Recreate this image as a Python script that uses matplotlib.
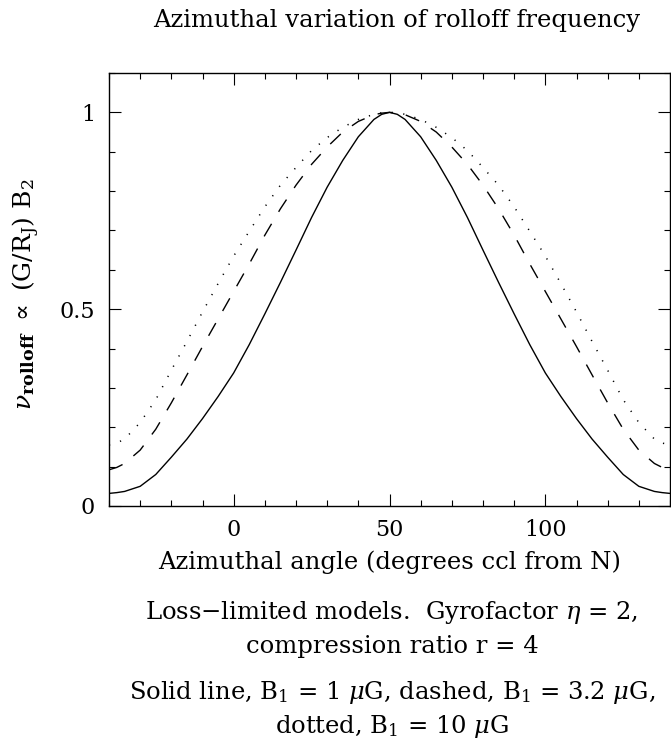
#import libraries
import matplotlib
matplotlib.use('Agg')
import matplotlib.pyplot as plt
from matplotlib.ticker import MultipleLocator

plt.rcParams['font.family'] = 'DejaVu Serif'
plt.rcParams['mathtext.fontset'] = 'dejavuserif'

#values (degrees ccl from N, normalised rolloff frequency)
angle = [-40, -37.5, -35, -30, -25, -20, -15, -10, -5, 0, 5, 10, 15, 20, 25, 30, 35, 40, 45, 47.5, 50,
         52.5, 55, 60, 65, 70, 75, 80, 85, 90, 95, 100, 105, 110, 115, 120, 125, 130, 135, 137.5, 140]

solid = [0.032, 0.034, 0.037, 0.050, 0.080, 0.124, 0.170, 0.222, 0.278, 0.338, 0.410, 0.488, 0.568,
         0.650, 0.733, 0.810, 0.878, 0.938, 0.982, 0.995, 1.000,
         0.995, 0.982, 0.938, 0.878, 0.810, 0.733, 0.650, 0.568, 0.488, 0.410, 0.338, 0.278, 0.222,
         0.170, 0.124, 0.080, 0.050, 0.037, 0.034, 0.032]

dashed = [0.092, 0.098, 0.108, 0.142, 0.195, 0.262, 0.333, 0.405, 0.475, 0.545, 0.615, 0.688, 0.755,
          0.815, 0.868, 0.912, 0.950, 0.977, 0.994, 0.998, 1.000,
          0.998, 0.994, 0.977, 0.950, 0.912, 0.868, 0.815, 0.755, 0.688, 0.615, 0.545, 0.475, 0.405,
          0.333, 0.262, 0.195, 0.142, 0.108, 0.098, 0.092]

dotted = [0.155, 0.160, 0.170, 0.212, 0.270, 0.345, 0.418, 0.493, 0.565, 0.635, 0.698, 0.760, 0.815,
          0.860, 0.903, 0.936, 0.962, 0.982, 0.995, 0.999, 1.000,
          0.999, 0.995, 0.982, 0.962, 0.936, 0.903, 0.860, 0.815, 0.760, 0.698, 0.635, 0.565, 0.493,
          0.418, 0.345, 0.270, 0.212, 0.170, 0.160, 0.155]

W, H = 671, 746
fig = plt.figure(figsize=(W / 100, H / 100), dpi=100)
ax = fig.add_axes([109 / W, 1 - 506 / H, (670 - 109) / W, (506 - 73) / H])

ax.plot(angle, solid, color='black', lw=1.0)
ax.plot(angle, dashed, color='black', lw=1.0, dashes=(10.5, 10))
ax.plot(angle, dotted, color='black', lw=1.1, dashes=(0.8, 6.8))

ax.set_xlim(-40, 140)
ax.set_ylim(0, 1.1)
ax.xaxis.set_minor_locator(MultipleLocator(10))
ax.yaxis.set_minor_locator(MultipleLocator(0.1))
ax.set_xticks([0, 50, 100])
ax.set_xticklabels(['0', '50', '100'])
ax.set_yticks([0, 0.5, 1])
ax.set_yticklabels(['0', '0.5', '1'])

ax.tick_params(which='both', direction='in', top=True, right=True, width=0.8, labelsize=16)
ax.tick_params(which='major', length=8.6)
ax.tick_params(which='minor', length=4.3)
ax.tick_params(axis='x', pad=9)
ax.tick_params(axis='y', pad=10)
for s in ax.spines.values():
    s.set_linewidth(1.0)

ax.set_ylabel(r'$\nu_{\mathbf{rolloff}}$ $\propto$ (G/R$_{\rm J}$) B$_2$', fontsize=18)
ax.yaxis.set_label_coords((42 - 109) / (670 - 109), 0.49)

fs = 17.5
fig.text(397 / W, 1 - 20 / H, 'Azimuthal variation of rolloff frequency', ha='center', va='center', fontsize=fs)
fig.text(390 / W, 1 - 562 / H, 'Azimuthal angle (degrees ccl from N)', ha='center', va='center', fontsize=fs)
fig.text(392 / W, 1 - 612 / H, 'Loss\u2212limited models.  Gyrofactor $\\eta$ = 2,', ha='center', va='center', fontsize=fs)
fig.text(392 / W, 1 - 646 / H, 'compression ratio r = 4', ha='center', va='center', fontsize=fs)
fig.text(392 / W, 1 - 693 / H, 'Solid line, B$_1$ = 1 $\\mu$G, dashed, B$_1$ = 3.2 $\\mu$G,', ha='center', va='center', fontsize=fs)
fig.text(392 / W, 1 - 726 / H, 'dotted, B$_1$ = 10 $\\mu$G', ha='center', va='center', fontsize=fs)

fig.savefig('out.png', dpi=100)
